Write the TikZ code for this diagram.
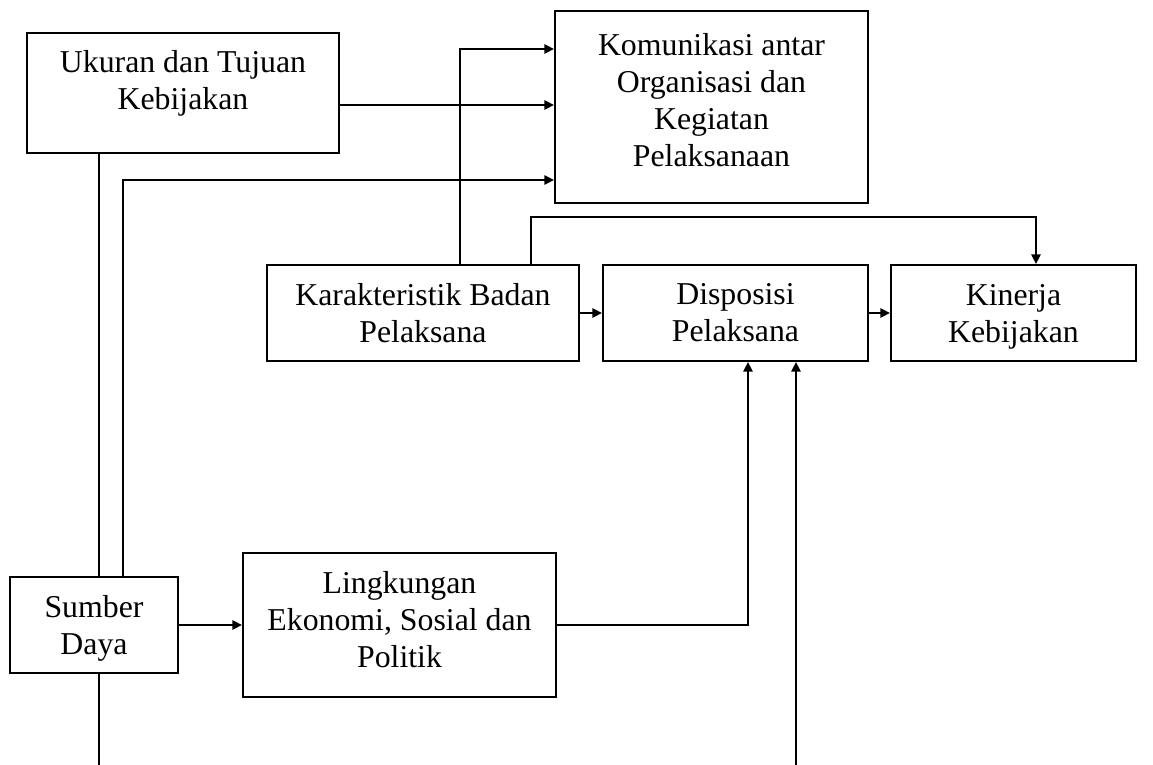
\documentclass[tikz,border=0pt]{standalone}
\usepackage{fontspec}
\setmainfont{Liberation Serif}
\usetikzlibrary{arrows.meta,calc,positioning}

\begin{document}
\begin{tikzpicture}[x=0.5pt,y=-0.5pt,
  font=\fontsize{15.9}{18.5}\selectfont,
  factorbox/.style={draw,line width=1pt,align=center,inner sep=0pt},
  flowarrow/.style={line width=0.95pt,-{Triangle[length=4.8pt,width=4.6pt]}},
  flowline/.style={line width=0.6pt}]
  \path[use as bounding box] (0,0) rectangle (1153,765);

  \node[factorbox,minimum width=156pt,minimum height=60pt,text depth=13pt] (ukur) at (183,93)
    {Ukuran dan Tujuan\\Kebijakan};
  \node[factorbox,minimum width=156.5pt,minimum height=96pt,text depth=7pt] (komu) at (711.5,107)
    {Komunikasi antar\\Organisasi dan\\Kegiatan\\Pelaksanaan};
  \node[factorbox,minimum width=156pt,minimum height=48pt] (kara) at (423,313)
    {Karakteristik Badan\\Pelaksana};
  \node[factorbox,minimum width=132.5pt,minimum height=48pt] (disp) at (735.5,313)
    {Disposisi\\Pelaksana};
  \node[factorbox,minimum width=122.5pt,minimum height=48pt,text depth=0pt] (kine) at (1013.5,313)
    {Kinerja\\Kebijakan};
  \node[factorbox,minimum width=156.5pt,minimum height=72pt,text depth=6pt] (ling) at (399.5,625)
    {Lingkungan\\Ekonomi, Sosial dan\\Politik};
  \node[factorbox,minimum width=84pt,minimum height=48pt,text depth=0pt] (sumb) at (94,625)
    {Sumber\\Daya};

  % Bend points and free ends of the connectors.
  \foreach \c/\x/\y in {ktop/460/49,umid/339/105,sbend/123/180,kbend/531/217,kend/1036/217,
    lbend/748/625,dfoot/796/765,sfoot/99/765}
    {\coordinate (\c) at (\x,\y);}

  \draw[flowarrow] (kara.north -| ktop) |- (ktop -| komu.west);
  \draw[flowarrow] (ukur.east |- umid) -- (umid -| komu.west);
  \draw[flowarrow] (sumb.north -| sbend) |- (sbend -| komu.west);
  \draw[flowarrow] (kara.north -| kbend) |- (kend) -- (kend |- kine.north);
  \draw[flowarrow] (kara.east) -- (disp.west);
  \draw[flowarrow] (disp.east) -- (kine.west);
  \draw[flowarrow] (sumb.east) -- (ling.west);
  \draw[flowarrow] (ling.east) -- (lbend) -- (lbend |- disp.south);
  \draw[flowarrow] (dfoot) -- (dfoot |- disp.south);
  \draw[flowline] (ukur.south -| sfoot) -- (sumb.north -| sfoot);
  \draw[flowline] (sumb.south -| sfoot) -- (sfoot);
\end{tikzpicture}
\end{document}
